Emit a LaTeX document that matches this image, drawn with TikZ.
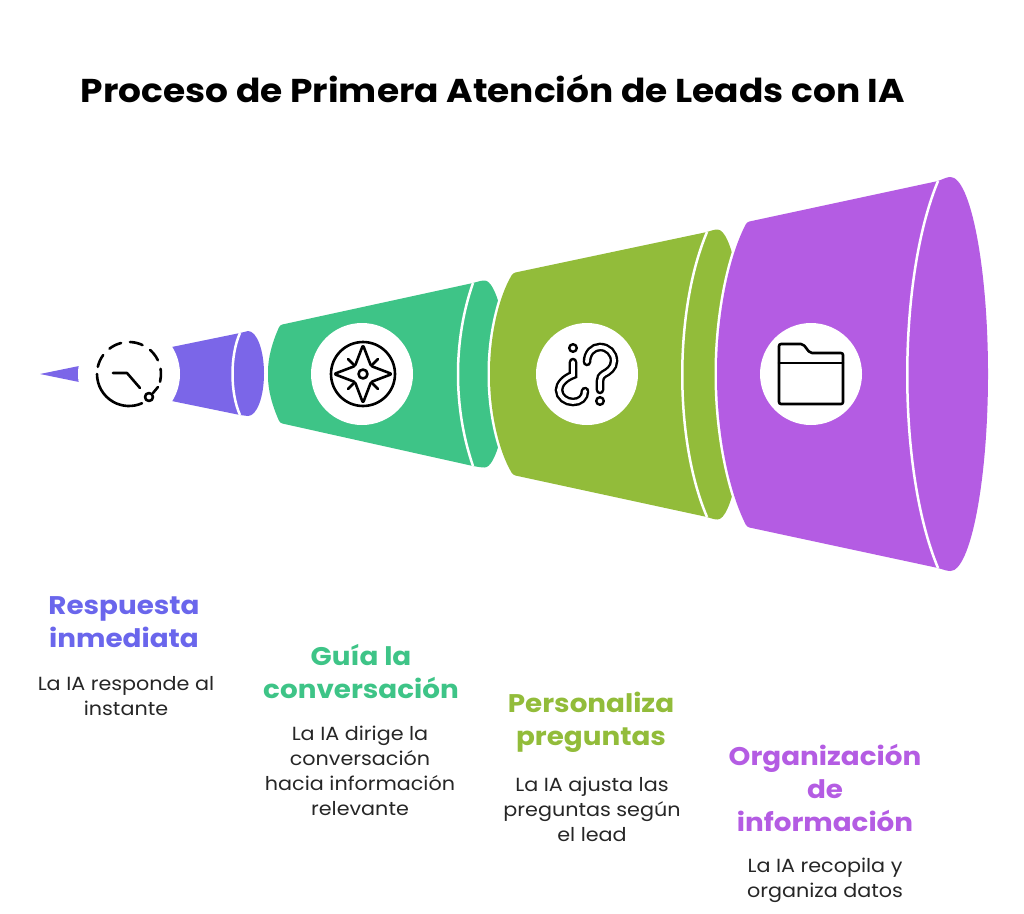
\documentclass[tikz,border=0pt]{standalone}
\usepackage{fontspec}
\setmainfont{Poppins}[FakeStretch=1.09]
\definecolor{purplecone}{HTML}{7B66E8}
\definecolor{greencone}{HTML}{3EC487}
\definecolor{olivecone}{HTML}{92BC3A}
\definecolor{violetcone}{HTML}{B45CE3}
\definecolor{purpletext}{HTML}{6A66EC}
\definecolor{greentext}{HTML}{3EC487}
\definecolor{olivetext}{HTML}{92BC3A}
\definecolor{violettext}{HTML}{B45CE3}
\tikzset{
    conepart/.style={fill=#1, rounded corners=2.5pt, preaction={draw=white, line width=5pt}},
    rimline/.style={draw=white, line width=2.5pt},
    iconback/.style={fill=white},
    iconline/.style={draw=black, line width=2.6pt, line cap=round, line join=round},
    markline/.style={draw=black, line width=2.4pt, double=white, double distance=3.8pt, line cap=round},
    headtext/.style={font=\fontsize{25.5}{33}\selectfont\bfseries, align=center, text=#1},
    bodytext/.style={font=\fontsize{19}{25}\selectfont, align=center, text=black!85},
}
\begin{document}
\begin{tikzpicture}[x=1pt, y=-1pt]
    \useasboundingbox (0, 0) rectangle (1024, 913);
    \node[font=\fontsize{33}{40}\selectfont\bfseries, text=black] (title) at (493, 89) {Proceso de Primera Atención de Leads con IA};
    % purple cone
    \fill[purplecone] (40, 374) -- (240, 333) -- (248, 331) arc[start angle=-90, end angle=90, x radius=16, y radius=42.5] -- (240, 415) -- cycle;
    \draw[rimline] (240, 333) .. controls (230, 355) and (230, 393) .. (240, 415);
    \fill[iconback] (129, 374) circle (51);
    \draw[iconline, dash pattern=on 13pt off 9pt] (129, 374) ++(-167:32) arc[start angle=-167, end angle=24, radius=32];
    \draw[iconline] (129, 374) ++(180:32) arc[start angle=180, end angle=66, radius=32];
    \draw[iconline] (113, 373) -- (127, 373) -- (140, 388);
    \draw[iconline] (149, 397) circle (4);
    \draw[iconline] (153, 393) -- (158, 387);
    % green cone
    \path[conepart=greencone] (280, 423) .. controls (272, 405) and (268, 390) .. (268, 374) .. controls (268, 358) and (272, 343) .. (280, 325) -- (473, 283) -- (482, 280.5) arc[start angle=-90, end angle=90, x radius=25, y radius=93.5] -- (473, 466) -- cycle;
    \draw[rimline] (473, 283) .. controls (453, 340) and (453, 408) .. (473, 466);
    \fill[iconback] (362, 374) circle (51);
    \draw[iconline] (363, 374) circle (32);
    \draw[iconline] (363, 374) circle (4.5);
    \draw[iconline, rounded corners=1.5pt] (363, 345) -- (371, 366) -- (392, 374) -- (371, 382) -- (363, 403) -- (355, 382) -- (334, 374) -- (355, 366) -- cycle;
    \draw[iconline] (372, 365) -- (378, 359);
    \draw[iconline] (354, 365) -- (348, 359);
    \draw[iconline] (372, 383) -- (378, 389);
    \draw[iconline] (354, 383) -- (348, 389);
    % olive cone
    \path[conepart=olivecone] (513, 475) .. controls (498, 450) and (490, 410) .. (490, 374) .. controls (490, 338) and (498, 298) .. (513, 273) -- (707, 232) -- (715, 229.5) arc[start angle=-90, end angle=90, x radius=30, y radius=145] -- (707, 517) -- cycle;
    \draw[rimline] (707, 232) .. controls (674, 310) and (674, 440) .. (707, 517);
    \fill[iconback] (587, 374) circle (51);
    \draw[markline] (573, 362) -- (573, 375) .. controls (565, 378) and (559, 384) .. (559, 390) .. controls (559, 397) and (566, 402) .. (573, 402) .. controls (580, 402) and (585, 398) .. (585, 391);
    \draw[markline] (587, 362) .. controls (587, 353) and (593, 347) .. (600, 347) .. controls (608, 347) and (614, 353) .. (614, 361) .. controls (614, 368) and (608, 372) .. (604, 374) .. controls (601, 376) and (600, 378) .. (600, 381) -- (600, 390);
    \draw[iconline, line width=2.4pt] (573, 348) circle (3.8);
    \draw[iconline, line width=2.4pt] (600, 401) circle (3.8);
    % violet cone
    \path[conepart=violetcone] (747, 527) .. controls (728, 490) and (717, 430) .. (717, 374) .. controls (717, 318) and (728, 258) .. (747, 222) -- (938, 181) -- (948, 177) arc[start angle=-90, end angle=90, x radius=40, y radius=197] -- (938, 568) -- cycle;
    \draw[rimline] (938, 181) .. controls (897, 280) and (897, 470) .. (938, 568);
    \fill[iconback] (811, 374) circle (51);
    \draw[iconline, rounded corners=2pt] (779, 404) -- (779, 344) -- (803, 344) -- (810, 353) -- (843, 353) -- (843, 404) -- cycle;
    \draw[iconline] (779, 363) -- (843, 363);
    % labels
    \node[headtext=purpletext] (resphead) at (124, 622) {Respuesta\\inmediata};
    \node[bodytext] (respbody) at (126, 696) {La IA responde al\\instante};
    \node[headtext=greentext] (guiahead) at (361, 672) {Guía la\\conversación};
    \node[bodytext] (guiabody) at (360, 771) {La IA dirige la\\conversación\\hacia información\\relevante};
    \node[headtext=olivetext] (pershead) at (591, 722) {Personaliza\\preguntas};
    \node[bodytext] (persbody) at (592, 809) {La IA ajusta las\\preguntas según\\el lead};
    \node[headtext=violettext] (orgahead) at (825, 788) {Organización\\de\\información};
    \node[bodytext] (orgabody) at (825, 880) {La IA recopila y\\organiza datos};
\end{tikzpicture}
\end{document}
